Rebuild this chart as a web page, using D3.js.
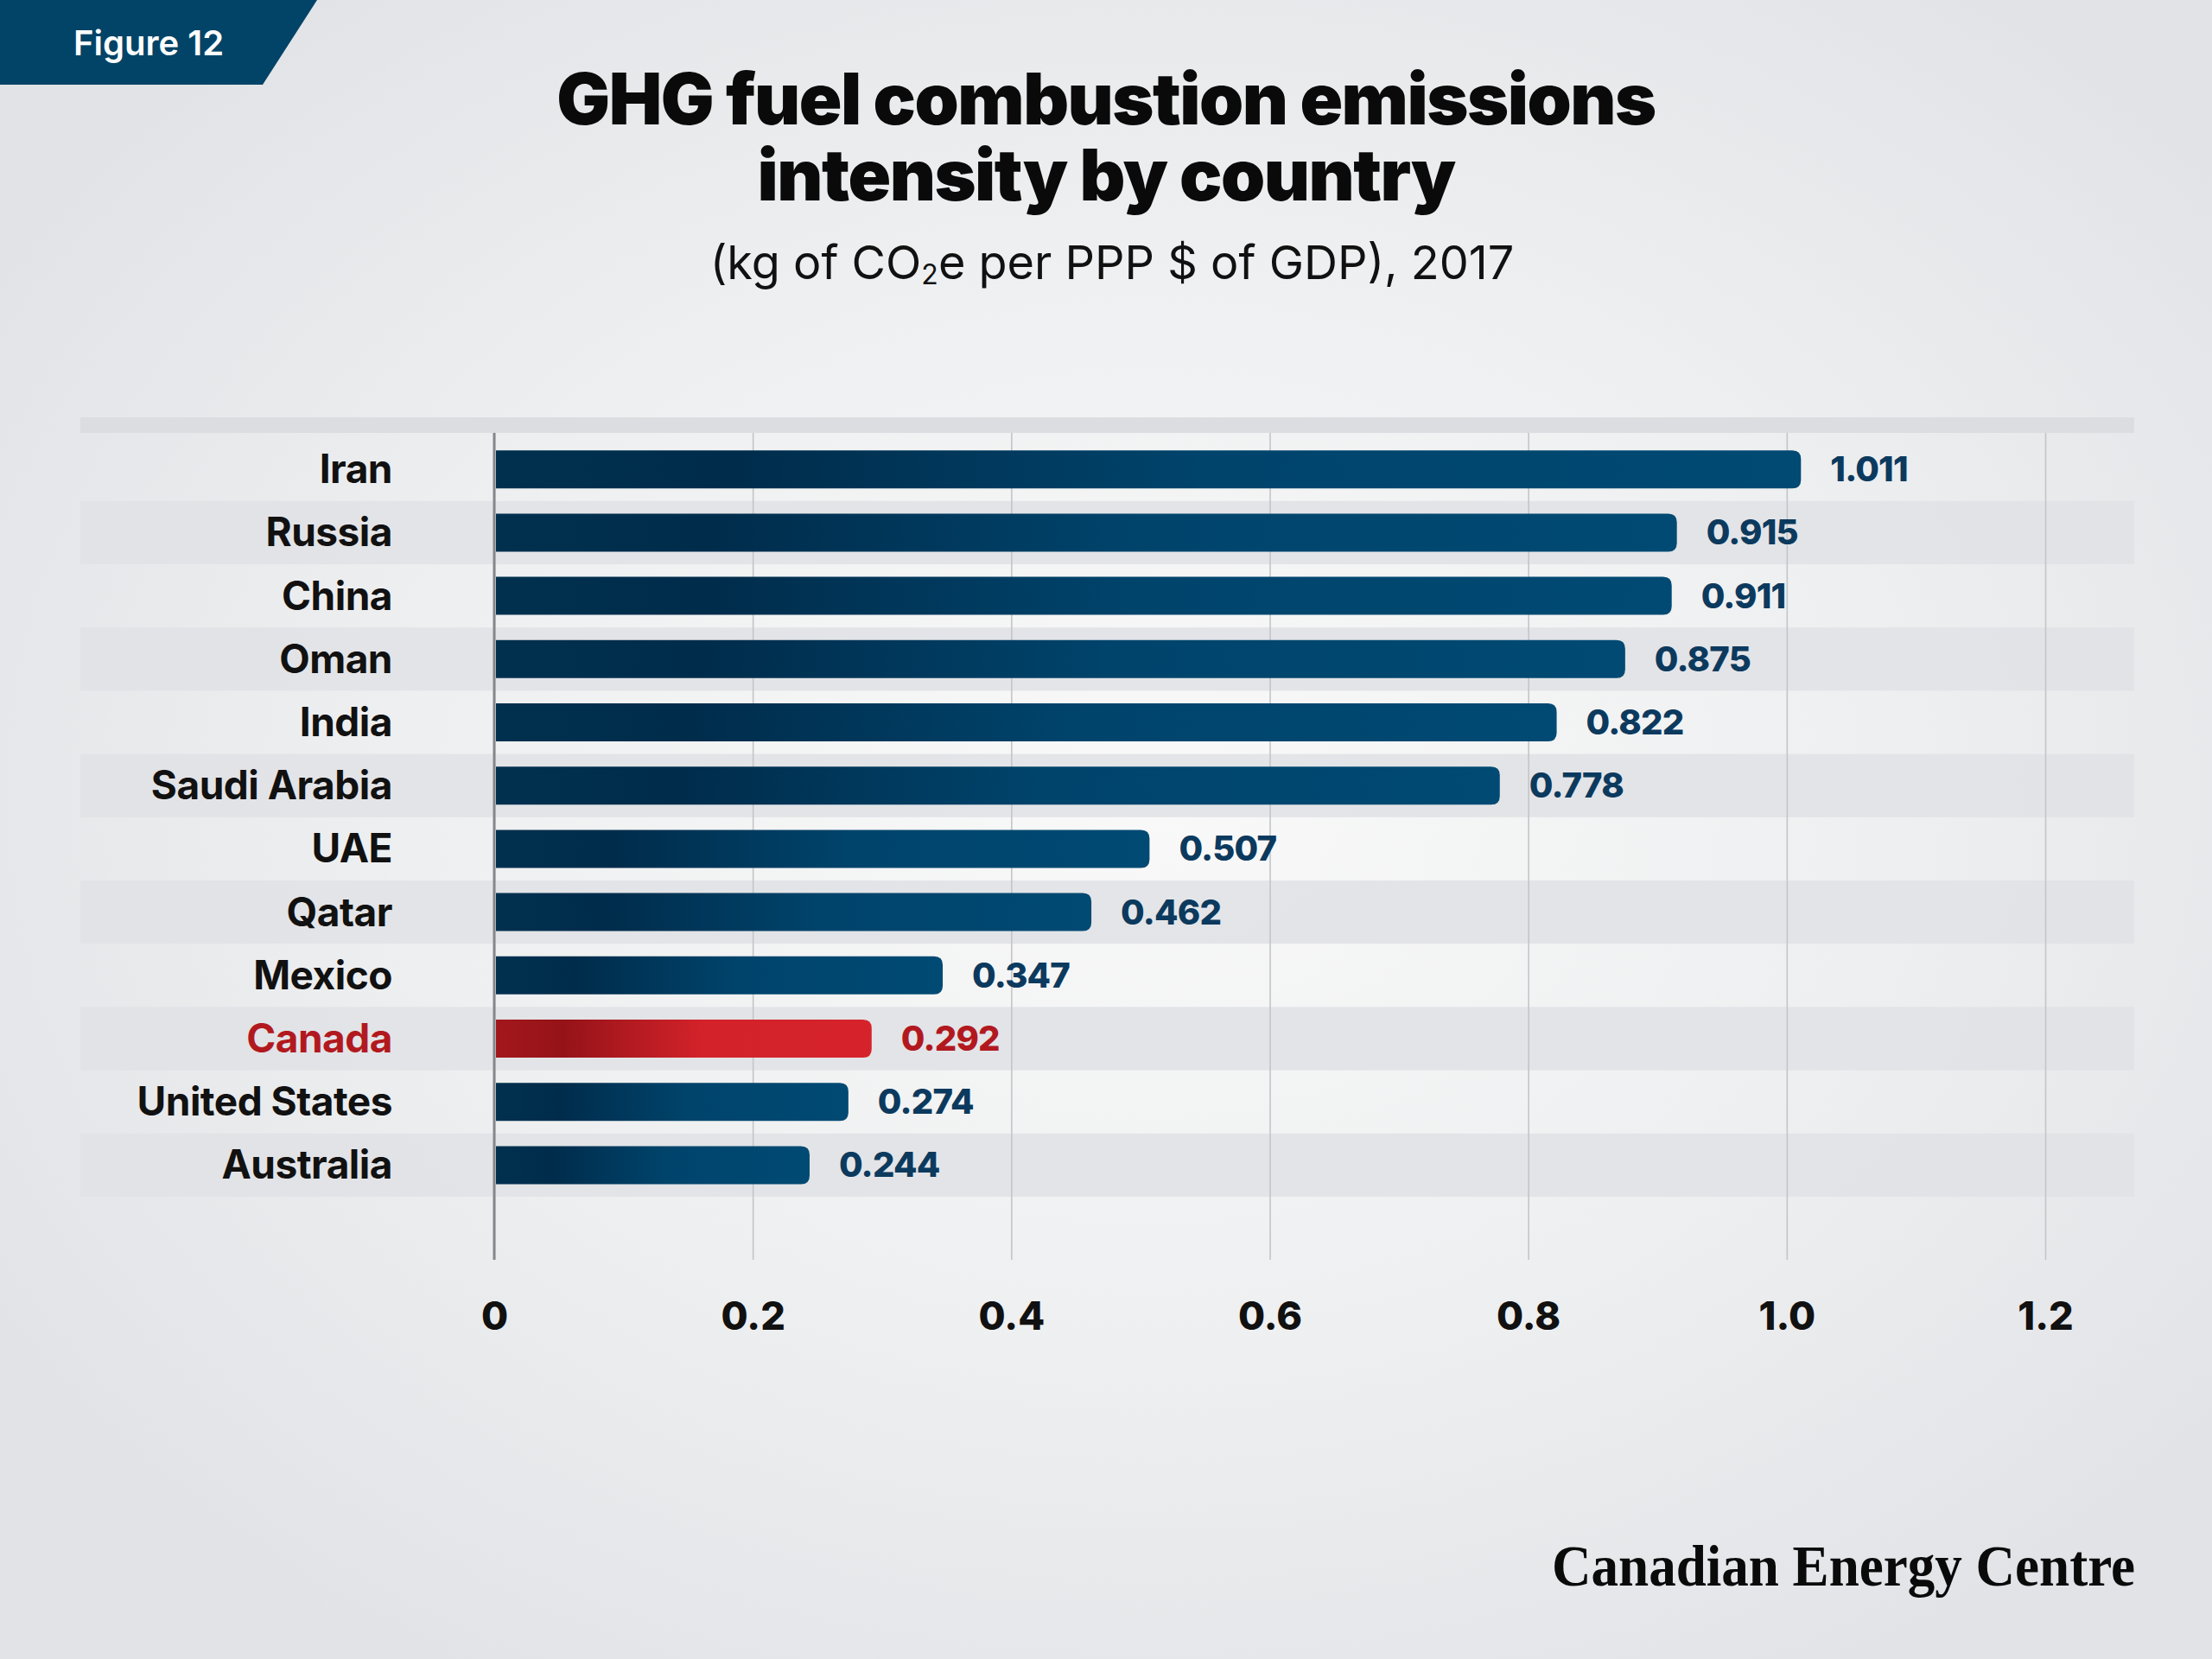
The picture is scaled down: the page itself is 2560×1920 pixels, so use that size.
<!DOCTYPE html>
<html lang="en">
<head>
  <meta charset="UTF-8">
  <title>GHG fuel combustion emissions intensity by country</title>
  <script src="https://d3js.org/d3.v7.min.js"></script>
  <style>
    body { margin: 0; padding: 0; background: #e6e7ea; }
    svg { display: block; }
    .tick text { font-family: Inter, 'Noto Sans', sans-serif; font-weight: 800; font-size: 45px; fill: #111; }
  </style>
</head>
<body>
  <svg id="chart"></svg>

  <script>
    // Chart data
    const countries = ["Iran", "Russia", "China", "Oman", "India", "Saudi Arabia",
                       "UAE", "Qatar", "Mexico", "Canada", "United States", "Australia"];
    const values = [1.011, 0.915, 0.911, 0.875, 0.822, 0.778, 0.507, 0.462, 0.347, 0.292, 0.274, 0.244];
    const valueLabels = ["1.011", "0.915", "0.911", "0.875", "0.822", "0.778",
                         "0.507", "0.462", "0.347", "0.292", "0.274", "0.244"];
    const tickValues = [0, 0.2, 0.4, 0.6, 0.8, 1.0, 1.2];
    const tickLabels = ["0", "0.2", "0.4", "0.6", "0.8", "1.0", "1.2"];
    const highlight = "Canada";

    const width = 2560, height = 1920;
    const font = "Inter, 'Noto Sans', sans-serif";

    const svg = d3.select("#chart").attr("width", width).attr("height", height);
    const defs = svg.append("defs");

    // background glow
    const bg = defs.append("radialGradient").attr("id", "bg")
      .attr("cx", 0.52).attr("cy", 0.48).attr("r", 0.62);
    bg.append("stop").attr("offset", "0%").attr("stop-color", "#f9f9f9");
    bg.append("stop").attr("offset", "55%").attr("stop-color", "#eeeff0");
    bg.append("stop").attr("offset", "100%").attr("stop-color", "#e2e3e7");
    svg.append("rect").attr("width", width).attr("height", height).attr("fill", "url(#bg)");

    // bar gradients
    function barGradient(id, stops) {
      const g = defs.append("linearGradient").attr("id", id)
        .attr("x1", 0).attr("x2", 1).attr("y1", 0).attr("y2", 0);
      stops.forEach(s => g.append("stop").attr("offset", s[0]).attr("stop-color", s[1]));
    }
    barGradient("blue", [["0%", "#01304f"], ["18%", "#002c4b"], ["55%", "#00446c"], ["100%", "#004a73"]]);
    barGradient("red", [["0%", "#a3171c"], ["18%", "#951318"], ["55%", "#d3222a"], ["100%", "#d6232b"]]);

    // figure tab
    svg.append("path").attr("d", "M0,0 L367,0 L304,98 L0,98 Z").attr("fill", "#024467");
    svg.append("text").attr("x", 85).attr("y", 64)
      .attr("font-family", font).attr("font-weight", 600).attr("font-size", 40)
      .attr("fill", "#fff").text("Figure 12");

    // titles
    const title = svg.append("text").attr("text-anchor", "middle")
      .attr("font-family", font).attr("font-weight", 900).attr("font-size", 82)
      .attr("letter-spacing", -1.5).attr("fill", "#0a0a0a");
    title.append("tspan").attr("x", 1280).attr("y", 144).text("GHG fuel combustion emissions");
    title.append("tspan").attr("x", 1280).attr("y", 232).text("intensity by country");

    const sub = svg.append("text").attr("x", 1287).attr("y", 323).attr("text-anchor", "middle")
      .attr("font-family", font).attr("font-weight", 400).attr("font-size", 54).attr("fill", "#111");
    sub.append("tspan").text("(kg of CO");
    sub.append("tspan").attr("font-size", 32).attr("dy", 6).text("2");
    sub.append("tspan").attr("dy", -6).text("e per PPP $ of GDP), 2017");

    // scales
    const x = d3.scaleLinear().domain([0, 1.2]).range([572, 2367]);
    const y = d3.scaleBand().domain(countries).range([506.6, 506.6 + 73.2 * countries.length]);
    const barH = 44;
    const plotTop = 501, plotBottom = 1458;
    const bandLeft = 93, bandRight = 2470;

    // top band
    svg.append("rect").attr("x", bandLeft).attr("y", 483)
      .attr("width", bandRight - bandLeft).attr("height", plotTop - 483).attr("fill", "#dcdde1");

    // alternating row bands
    svg.append("g").selectAll("rect")
      .data(countries.filter((d, i) => i % 2 === 1))
      .join("rect")
      .attr("x", bandLeft).attr("width", bandRight - bandLeft)
      .attr("y", d => y(d)).attr("height", y.bandwidth())
      .attr("fill", "#e1e2e6").attr("opacity", 0.9);

    // grid + tick labels
    const axis = d3.axisBottom(x)
      .tickValues(tickValues)
      .tickFormat((d, i) => tickLabels[i])
      .tickSize(-(plotBottom - plotTop))
      .tickPadding(49);
    const gAxis = svg.append("g").attr("transform", `translate(0,${plotBottom})`).call(axis);
    gAxis.select(".domain").remove();
    gAxis.selectAll(".tick line").attr("stroke", "#c4c5ca").attr("stroke-width", 1.6);
    gAxis.selectAll(".tick text").attr("dy", "0.71em");

    // bars with rounded right end
    function barPath(d, i) {
      const x0 = x(0) + 2, x1 = x(values[i]), y0 = y(d) + (y.bandwidth() - barH) / 2, r = 10;
      return `M${x0},${y0} H${x1 - r} Q${x1},${y0} ${x1},${y0 + r} V${y0 + barH - r}` +
             ` Q${x1},${y0 + barH} ${x1 - r},${y0 + barH} H${x0} Z`;
    }
    svg.append("g").selectAll("path")
      .data(countries)
      .join("path")
      .attr("d", barPath)
      .attr("fill", d => d === highlight ? "url(#red)" : "url(#blue)");

    // zero line
    svg.append("line").attr("x1", x(0)).attr("x2", x(0))
      .attr("y1", plotTop).attr("y2", plotBottom)
      .attr("stroke", "#85878c").attr("stroke-width", 3);

    // country labels
    svg.append("g").selectAll("text")
      .data(countries)
      .join("text")
      .attr("x", 454)
      .attr("y", d => y(d) + y.bandwidth() / 2 + 16)
      .attr("text-anchor", "end")
      .attr("font-family", font).attr("font-weight", 700).attr("font-size", 46)
      .attr("letter-spacing", -0.5)
      .attr("fill", d => d === highlight ? "#b2191f" : "#111")
      .text(d => d);

    // value labels
    svg.append("g").selectAll("text")
      .data(countries)
      .join("text")
      .attr("x", (d, i) => x(values[i]) + 34)
      .attr("y", d => y(d) + y.bandwidth() / 2 + 14)
      .attr("font-family", font).attr("font-weight", 800).attr("font-size", 40)
      .attr("letter-spacing", -0.8)
      .attr("fill", d => d === highlight ? "#b2191f" : "#0c3a5e")
      .text((d, i) => valueLabels[i]);

    // footer
    svg.append("text").attr("x", 2471).attr("y", 1835).attr("text-anchor", "end")
      .attr("font-family", "'Liberation Serif', 'DejaVu Serif', serif")
      .attr("font-weight", 700).attr("font-size", 68)
      .attr("textLength", 675).attr("lengthAdjust", "spacingAndGlyphs")
      .attr("fill", "#0a0a0a").text("Canadian Energy Centre");
  </script>
</body>
</html>
